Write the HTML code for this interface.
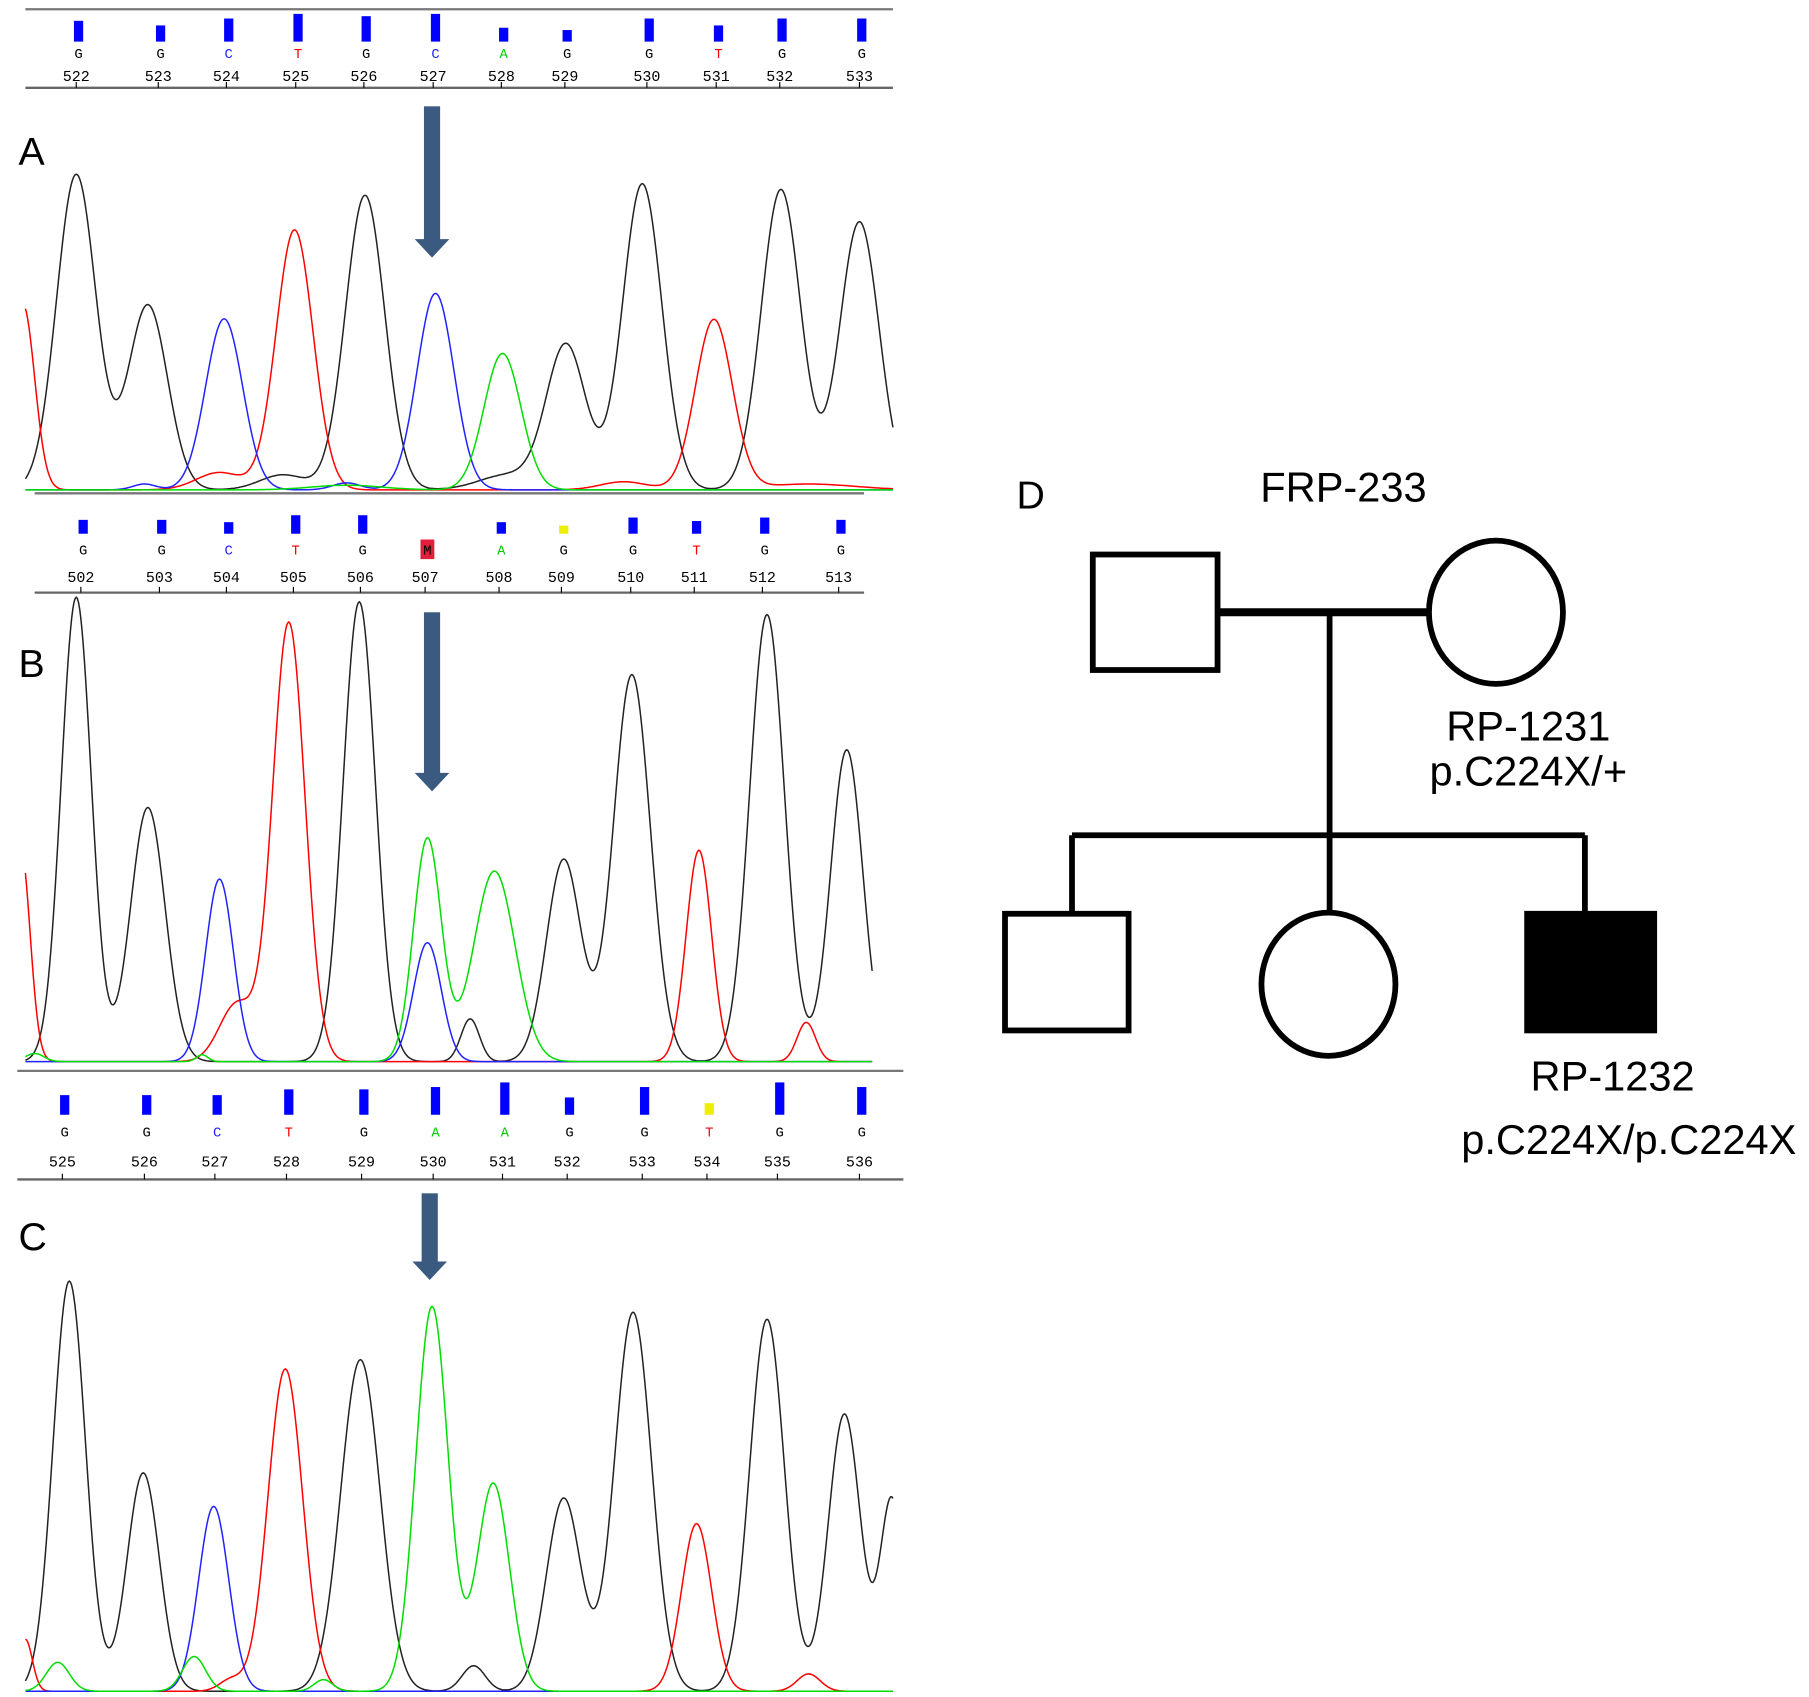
<!DOCTYPE html>
<html><head><meta charset="utf-8"><style>
html,body{margin:0;padding:0;background:#fff;}
svg{display:block;}
</style></head><body>
<svg id="s" width="1809" height="1697" viewBox="0 0 1566 1469" xmlns="http://www.w3.org/2000/svg" font-family="Liberation Sans, sans-serif">
<rect width="1566" height="1469" fill="#fff"/>
<text x="16" y="143" font-size="34">A</text>
<text x="16" y="586" font-size="34">B</text>
<text x="16" y="1082" font-size="34">C</text>
<g fill="#3b5a80">
<rect x="367" y="92" width="14" height="116"/><polygon points="359,207 389,207 374,223"/>
<rect x="367" y="530" width="14" height="140"/><polygon points="359,669 389,669 374,685"/>
<rect x="365" y="1033" width="14" height="60"/><polygon points="357,1092 387,1092 372,1108"/>
</g>
<g id="traces" fill="none" stroke-width="1.3"></g>
<g id="hdr"></g>
<!-- pedigree -->
<g stroke="#000" stroke-width="5" fill="none">
<text x="880" y="440" font-size="34" stroke="none" fill="#000">D</text>
<rect x="946" y="480" width="108" height="100"/>
<ellipse cx="1295" cy="530" rx="58" ry="62"/>
<line x1="1054" y1="530" x2="1237" y2="530" stroke-width="7"/>
<line x1="1151" y1="527" x2="1151" y2="790"/>
<line x1="928" y1="723" x2="1372" y2="723"/>
<line x1="928" y1="723" x2="928" y2="791"/>
<line x1="1372" y1="723" x2="1372" y2="791"/>
<rect x="870" y="791" width="107" height="101"/>
<ellipse cx="1150" cy="852" rx="58" ry="62"/>
<rect x="1322" y="791" width="110" height="101" fill="#000"/>
</g>
<g font-family="Liberation Sans, sans-serif" font-size="36" fill="#000" text-anchor="middle">
<text x="1163" y="434">FRP-233</text>
<text x="1323" y="641">RP-1231</text>
<text x="1323" y="680">p.C224X/+</text>
<text x="1396" y="944">RP-1232</text>
<text x="1410" y="999">p.C224X/p.C224X</text>
</g>
</svg>
<script>
var NS="http://www.w3.org/2000/svg";
function el(t,a,p,txt){var e=document.createElementNS(NS,t);for(var k in a)e.setAttribute(k,a[k]);if(txt)e.textContent=txt;p.appendChild(e);return e;}
var tr=document.getElementById('traces'),hd=document.getElementById('hdr');
var col={k:'#222',r:'#f00',b:'#22f',g:'#0d0'};
function trace(x0,x1,base,peaks,c,sig){var d='';for(var x=x0;x<=x1;x+=1){var y=0;peaks.forEach(function(p){var s=p[2]||sig;y+=(base-p[1])*Math.exp(-Math.pow(x-p[0],2)/(2*s*s));});d+=(x==x0?'M':'L')+x+','+(base-y-1).toFixed(1);}el('path',{d:d,stroke:col[c]},tr);}
// Panel A
trace(22,773,425,[[66,152],[128,265],[316,170],[490,300],[556,160],[676,165],[744,193],[440,412,25],[245,412,20]],'k',17);
trace(22,773,425,[[20,265,10],[255,200],[618,278],[190,410,20],[540,418,20],[700,420,40]],'r',16);
trace(22,773,425,[[194,277],[377,255],[125,420,10],[300,419,12]],'b',16);
trace(22,773,425,[[435,307],[300,421,30]],'g',16);
// Panel B
trace(22,755,920,[[66,518,13],[128,700,15],[311,522,14],[407,883,8],[488,745,15],[547,585,16],[664,533,15],[733,650,14]],'k',14);
trace(22,755,920,[[18,735,8],[250,540,14],[605,737,11],[698,886,8],[205,870,15]],'r',14);
trace(22,755,920,[[190,762,12],[370,817,12]],'b',12);
trace(22,755,920,[[370,727,12],[428,755,18],[30,913,8],[175,914,5]],'g',12);
// Panel C
trace(22,773,1465,[[60,1110,14],[124,1276,14],[312,1178,17],[410,1443,10],[488,1298,15],[548,1137,16],[664,1143,15],[731,1225,14],[772,1300,10]],'k',14);
trace(22,773,1465,[[22,1420,6],[247,1186,15],[603,1320,13],[700,1450,10],[200,1455,10]],'r',14);
trace(22,773,1465,[[185,1305,13]],'b',13);
trace(22,773,1465,[[374,1132,14],[427,1285,14],[50,1440,10],[168,1435,10],[280,1455,8]],'g',14);
// headers
var cc={G:'#000',C:'#22f',T:'#f00',A:'#0c0',M:'#000'};
function header(x0,x1,ytop,ybot,barY,barH,letY,numY,items,n0){
 el('line',{x1:x0,y1:ytop,x2:x1,y2:ytop,stroke:'#777','stroke-width':2},hd);
 el('line',{x1:x0,y1:ybot,x2:x1,y2:ybot,stroke:'#666','stroke-width':2},hd);
 items.forEach(function(it,i){var x=it[0],L=it[1],h=it[2],bc=it[3]||'#00f';
  el('rect',{x:x-4,y:barY+barH-h,width:8,height:h,fill:bc},hd);
  if(L=='M'){el('rect',{x:x-6,y:letY-13,width:12,height:17,fill:'#e0203a'},hd);}
  el('text',{x:x,y:letY,'font-size':12,'font-family':'Liberation Mono, monospace','text-anchor':'middle',fill:cc[L]},hd,L);
  el('text',{x:x-2,y:numY,'font-size':13,'font-family':'Liberation Mono, monospace','text-anchor':'middle',fill:'#000'},hd,String(n0+i));
  el('line',{x1:x-2,y1:ybot-5,x2:x-2,y2:ybot,stroke:'#000','stroke-width':1},hd);});}
header(22,773,8,76,12,24,50,70,[[68,'G',18],[139,'G',14],[198,'C',20],[258,'T',24],[317,'G',22],[377,'C',24],[436,'A',12],[491,'G',10],[562,'G',20],[622,'T',14],[677,'G',20],[746,'G',20]],522);
header(30,748,427,513,448,14,480,504,[[72,'G',12],[140,'G',12],[198,'C',10],[256,'T',16],[314,'G',16],[370,'M',0],[434,'A',10],[488,'G',7,'#ee0'],[548,'G',14],[603,'T',11],[662,'G',14],[728,'G',12]],502);
header(15,782,927,1021,940,25,984,1010,[[56,'G',17],[127,'G',17],[188,'C',17],[250,'T',22],[315,'G',22],[377,'A',24],[437,'A',28],[493,'G',15],[558,'G',24],[614,'T',10,'#ee0'],[675,'G',28],[746,'G',24]],525);
</script>
</body></html>
